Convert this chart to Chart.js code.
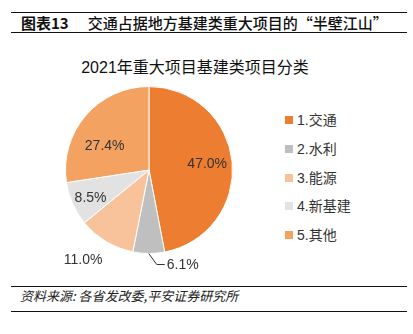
<!DOCTYPE html>
<html>
<head>
<meta charset="utf-8">
<script src="https://cdn.jsdelivr.net/npm/chart.js@4.4.0/dist/chart.umd.min.js"></script>
<style>
  html, body { margin: 0; padding: 0; background: #fff; }
  body { width: 413px; height: 334px; position: relative; overflow: hidden;
         font-family: "Liberation Sans", Arial, "Noto Sans CJK SC", sans-serif; color: #222; }
  .header { position: absolute; left: 11px; top: 12px; width: 396px; height: 19px;
            border-top: 1.5px solid #111; border-bottom: 1.5px solid #111;
            font-family: "Noto Sans CJK SC", sans-serif; font-size: 15px; line-height: 19px; color: #111; }
  .header b { margin-left: 10px; margin-right: 19px; font-weight: bold; }
  .header span { font-weight: 500; }
  .footer { position: absolute; left: 11px; top: 286px; width: 396px; height: 24px;
            border-top: 1.5px solid #111; border-bottom: 1.5px solid #111;
            font-family: "Noto Sans CJK SC", sans-serif; font-size: 13px; line-height: 18px;
            font-style: italic; color: #222; }
  .footer div { margin-left: 9px; }
  .ctitle { position: absolute; left: 0; top: 58px; width: 390px; text-align: center;
            font-family: "Liberation Sans", "Noto Sans CJK SC", sans-serif; font-size: 16px; line-height: 20px; color: #111; }
  #chartBox { position: absolute; left: 0; top: 40px; width: 260px; height: 240px; }
  #legend { position: absolute; left: 285px; top: 112px; margin: 0; padding: 0; list-style: none;
            font-family: "Liberation Sans", "Noto Sans CJK SC", sans-serif; font-size: 14px; color: #333; }
  #legend li { height: 28.8px; line-height: 16px; white-space: nowrap; }
  #legend i { display: inline-block; width: 8px; height: 8px; margin-right: 4px; vertical-align: 1px; }
</style>
</head>
<body>
<div class="header"><b>图表13</b><span>交通占据地方基建类重大项目的“半壁江山”</span></div>
<div class="ctitle">2021年重大项目基建类项目分类</div>
<div id="chartBox"><canvas id="pieChart"></canvas></div>
<ul id="legend"></ul>
<div class="footer"><div>资料来源: 各省发改委,平安证券研究所</div></div>

<script>
document.addEventListener('DOMContentLoaded', function () {
    var categories = ['1.交通', '2.水利', '3.能源', '4.新基建', '5.其他'];
    var shares = [47.0, 6.1, 11.0, 8.5, 27.4]; // percent of projects
    var colors = ['#ED7D31', '#BFBFBF', '#F8C39B', '#E2E2E2', '#F3A262'];
    // slices whose label sits outside the pie
    var outside = [false, true, true, false, false];
    // small hand nudges (px) so labels don't sit exactly on the mid-angle
    var labelNudge = [[0, 0], [0, 0], [-3, 4], [-5, 4], [0, 14]];

    // legend list built from the same arrays
    var legend = document.getElementById('legend');
    categories.forEach(function (name, i) {
        var li = document.createElement('li');
        li.innerHTML = '<i style="background:' + colors[i] + '"></i>' + name;
        legend.appendChild(li);
    });

    // percent labels: inside slices, or outside with a short leader line
    var sliceLabels = {
        id: 'sliceLabels',
        afterDatasetsDraw: function (chart) {
            var ctx = chart.ctx;
            var arcs = chart.getDatasetMeta(0).data;
            ctx.save();
            ctx.font = '14px "Liberation Sans", Arial, sans-serif';
            ctx.fillStyle = '#333';
            ctx.textBaseline = 'middle';
            arcs.forEach(function (arc, i) {
                var p = arc.getProps(['x', 'y', 'startAngle', 'endAngle', 'outerRadius']);
                var mid = (p.startAngle + p.endAngle) / 2;
                var cos = Math.cos(mid), sin = Math.sin(mid);
                var R = p.outerRadius;
                var dx = labelNudge[i][0], dy = labelNudge[i][1];
                var text = shares[i].toFixed(1) + '%';
                if (!outside[i]) {
                    var r = R * 0.7;
                    ctx.textAlign = 'center';
                    ctx.fillText(text, p.x + cos * r + dx, p.y + sin * r + dy);
                } else if (shares[i] < 8) {
                    // narrow slice: leader line down and to the right
                    var x0 = p.x + cos * R, y0 = p.y + sin * R;
                    var x1 = x0 + 8, y1 = y0 + 11;
                    ctx.strokeStyle = '#333';
                    ctx.lineWidth = 1;
                    ctx.beginPath();
                    ctx.moveTo(x0, y0);
                    ctx.lineTo(x1, y1);
                    ctx.lineTo(x1 + 8, y1);
                    ctx.stroke();
                    ctx.textAlign = 'left';
                    ctx.fillText(text, x1 + 10, y1 + 1);
                } else {
                    var ro = R * 1.2;
                    ctx.textAlign = 'right';
                    ctx.fillText(text, p.x + cos * ro + 8 + dx, p.y + sin * ro + dy);
                }
            });
            ctx.restore();
        }
    };

    var ctxPie = document.getElementById('pieChart').getContext('2d');
    var pieChart = new Chart(ctxPie, {
        type: 'pie',
        data: {
            labels: categories,
            datasets: [{
                data: shares,
                backgroundColor: colors,
                borderColor: '#ffffff',
                borderWidth: 1
            }]
        },
        options: {
            responsive: true,
            maintainAspectRatio: false,
            animation: false,
            layout: { padding: { left: 65, right: 27, top: 46, bottom: 26 } },
            plugins: {
                legend: { display: false },
                tooltip: { enabled: false }
            }
        },
        plugins: [sliceLabels]
    });
});
</script>
</body>
</html>
